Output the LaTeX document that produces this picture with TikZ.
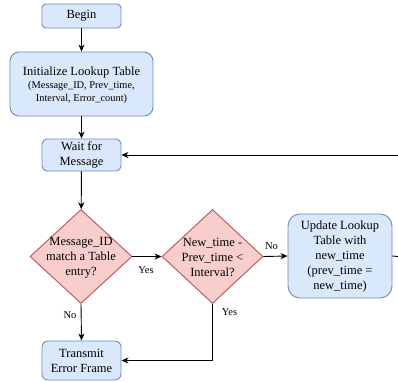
\documentclass[tikz,border=0pt]{standalone}
\usepackage{fontspec}
\setmainfont{Liberation Serif}
\usetikzlibrary{shapes.geometric,arrows.meta}

\definecolor{boxfill}{HTML}{DAE8FC}
\definecolor{boxline}{HTML}{6C8EBF}
\definecolor{decfill}{HTML}{F8CECC}
\definecolor{decline}{HTML}{B85450}

\begin{document}
\begin{tikzpicture}[x=1pt,y=-1pt,
  txt/.style={font=\fontsize{12.5}{15}\selectfont, align=center, inner sep=0pt},
  smalltxt/.style={font=\fontsize{10.4}{13}\selectfont, align=center, inner sep=0pt},
  lbl/.style={font=\fontsize{10.5}{12}\selectfont, inner sep=0pt},
  proc/.style={draw=boxline, fill=boxfill, line width=0.9pt, inner sep=0pt,
    rounded corners=#1, txt},
  dec/.style={draw=decline, fill=decfill, line width=0.9pt, shape=diamond,
    inner sep=0pt, aspect=1},
  flow/.style={draw=black, line width=0.9pt, -{Stealth[length=7pt,width=6pt,inset=2.2pt]}},
  wire/.style={draw=black, line width=0.9pt}
]
\clip (0,0) rectangle (398,381);

% process boxes
\node[proc=4, minimum width=79, minimum height=24] (begin) at (81.5,16) {Begin};
\node[proc=9, minimum width=143, minimum height=64] (init) at (81.5,84) {};
\node[txt] (initA) at (81.5,72) {Initialize Lookup Table};
\node[smalltxt] (initB) at (81.5,92.5) {(Message\_ID, Prev\_time,\\Interval, Error\_count)};
\node[proc=5, minimum width=79, minimum height=32] (wait) at (81.5,155) {Wait for\\Message};

% decisions
\node[dec, minimum width=102, minimum height=94] (d1) at (81,256.5) {};
\node[txt] (d1t) at (81,257.5) {Message\_ID\\match a Table\\entry?};
\node[dec, minimum width=101, minimum height=94] (d2) at (212.5,256.5) {};
\node[txt] (d2t) at (212.5,257.5) {New\_time -\\Prev\_time <\\Interval?};

\node[proc=12, minimum width=104, minimum height=84] (upd) at (340,256) {Update Lookup\\Table with\\new\_time\\(prev\_time =\\new\_time)};
\node[proc=6, minimum width=79, minimum height=39] (tx) at (81.5,360.5) {Transmit\\Error Frame};

% loop-back points at the right margin
\coordinate (edgeLow) at (398,256.5);
\coordinate (edgeHigh) at (398,155);
\coordinate (yesBend) at (212.5,360.5);

% connectors
\draw[flow] (begin) -- (init);
\draw[flow] (init) -- (wait);
\draw[flow] (wait) -- (d1);
\draw[flow] (d1.east) -- (d2.west);
\draw[flow] (d2.east) -- (upd.west);
\draw[flow] (d1.south) -- (tx.north);
\draw[flow] (d2.south) -- (yesBend) -- (tx.east);
\draw[wire] (upd.east) -- (edgeLow);
\draw[flow] (edgeHigh) -- (wait.east);

% branch labels
\node[lbl] (l1) at (146,270) {Yes};
\node[lbl] (l2) at (271.5,246.5) {No};
\node[lbl] (l3) at (70,315) {No};
\node[lbl] (l4) at (229.5,312) {Yes};
\end{tikzpicture}
\end{document}
